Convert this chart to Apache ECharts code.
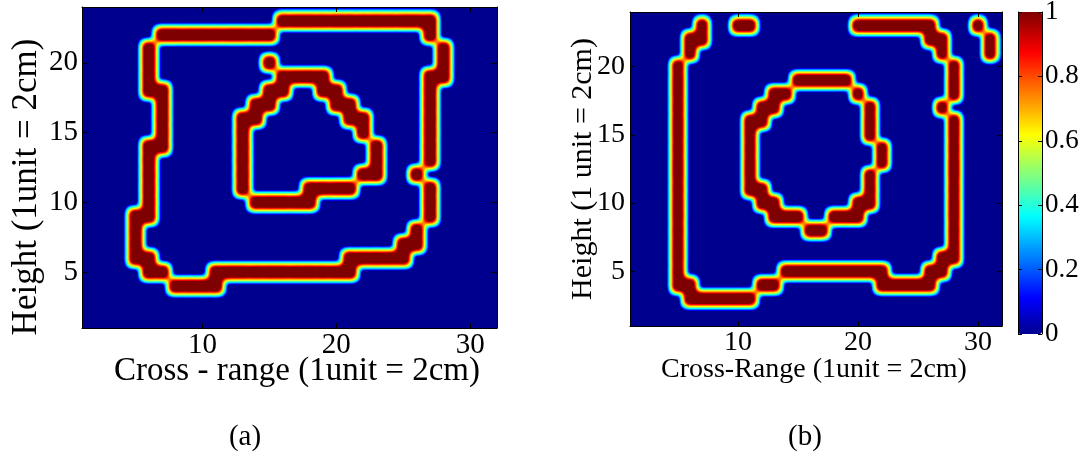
<!DOCTYPE html>
<html>
<head>
<meta charset="utf-8">
<script src="https://cdn.jsdelivr.net/npm/echarts@6/dist/echarts.min.js"></script>
<style>
  html, body { margin: 0; padding: 0; background: #fff; }
  #stage { position: relative; width: 1089px; height: 454px; overflow: hidden; }
  .field { position: absolute; filter: url(#jetmap); }
  #fieldA { left: 82px; top: 7px; width: 415px; height: 321px; }
  #fieldB { left: 630px; top: 12px; width: 372px; height: 314px; }
  #frame { position: absolute; left: 0; top: 0; width: 1089px; height: 454px; }
</style>
</head>
<body>
<!-- smoothing + jet colour mapping applied to the greyscale edge maps -->
<svg width="0" height="0" style="position:absolute">
  <filter id="jetmap" x="0" y="0" width="1" height="1" color-interpolation-filters="sRGB">
    <feGaussianBlur stdDeviation="3.2"/>
    <feComponentTransfer>
      <feFuncR id="funcR" type="table" tableValues="0 1"/>
      <feFuncG id="funcG" type="table" tableValues="0 1"/>
      <feFuncB id="funcB" type="table" tableValues="0 1"/>
      <feFuncA type="linear" slope="0" intercept="1"/>
    </feComponentTransfer>
  </filter>
</svg>
<div id="stage">
  <div id="fieldA" class="field"></div>
  <div id="fieldB" class="field"></div>
  <div id="frame"></div>
</div>
<script>
// ---- data -------------------------------------------------------------
const xRange = [1, 32];
const yRange = [1, 24];
const xTicks = [10, 20, 30];
const yTicks = [5, 10, 15, 20];
const barTicks = [0, 0.2, 0.4, 0.6, 0.8, 1];

// edge maps: rows from y = 24 (top) down to y = 1, columns x = 1..32
const edgeMapA = [
  '00000000000000000000000000000000', // 24
  '00000000000000011111111111100000', // 23
  '00000011111111100000000000100000', // 22
  '00000100000000000000000000010000', // 21
  '00000100000000100000000000010000', // 20
  '00000100000000011110000000110000', // 19
  '00000110000000110011000000100000', // 18
  '00000010000001100001100000100000', // 17
  '00000010000011000000110000100000', // 16
  '00000010000010000000010000100000', // 15
  '00000110000010000000001000100000', // 14
  '00000100000010000000001000100000', // 13
  '00000100000010000000011001000000', // 12
  '00000100000010000111100000100000', // 11
  '00000100000001111100000000100000', // 10
  '00001100000000000000000000100000', // 9
  '00001000000000000000000001000000', // 8
  '00001000000000000000000011000000', // 7
  '00001100000000000000111110000000', // 6
  '00000110001111111111100000000000', // 5
  '00000001111000000000000000000000', // 4
  '00000000000000000000000000000000', // 3
  '00000000000000000000000000000000', // 2
  '00000000000000000000000000000000'  // 1
];

const edgeMapB = [
  '00000000000000000000000000000000', // 24
  '00000010011000000001111111000100', // 23
  '00000110000000000000000001100010', // 22
  '00000100000000000000000000100010', // 21
  '00001000000000000000000000010000', // 20
  '00001000000000111110000000010000', // 19
  '00001000000011000001000000010000', // 18
  '00001000000110000000100000100000', // 17
  '00001000001100000000100000010000', // 16
  '00001000001000000000100000010000', // 15
  '00001000001000000000010000010000', // 14
  '00001000001000000000010000010000', // 13
  '00001000001000000000100000010000', // 12
  '00001000001100000000100000010000', // 11
  '00001000000110000001100000010000', // 10
  '00001000000011100111000000010000', // 9
  '00001000000000011000000000010000', // 8
  '00001000000000000000000000010000', // 7
  '00001000000000000000000000110000', // 6
  '00001000000001111111110001100000', // 5
  '00001100000110000000011111000000', // 4
  '00000111111000000000000000000000', // 3
  '00000000000000000000000000000000', // 2
  '00000000000000000000000000000000'  // 1
];

// ---- colour map (64-level jet) ----------------------------------------
function clamp01(t) { return Math.max(0, Math.min(1, t)); }
const K = 63 / 16;
function jet(u) {
  return [
    clamp01(Math.min(K * (u - 23 / 63), 1 - K * (u - 55 / 63))),
    clamp01(Math.min(K * (u - 7 / 63), 1 - K * (u - 39 / 63))),
    clamp01(Math.min(0.5625 + K * u, 1 - K * (u - 23 / 63)))
  ];
}
function hex(c) {
  return '#' + c.map(function (t) { return ('0' + Math.round(t * 255).toString(16)).slice(-2); }).join('');
}
const jetStops = [];
for (let i = 0; i < 64; i++) jetStops.push(hex(jet(i / 63)));

// normal cdf and its inverse, used to shape the edge fall-off
function erf(x) {
  const s = x < 0 ? -1 : 1; x = Math.abs(x);
  const t = 1 / (1 + 0.3275911 * x);
  const y = 1 - (((((1.061405429 * t - 1.453152027) * t) + 1.421413741) * t - 0.284496736) * t + 0.254829592) * t * Math.exp(-x * x);
  return s * y;
}
function phi(z) { return 0.5 * (1 + erf(z / Math.SQRT2)); }
function probit(p) {
  let lo = -8, hi = 8;
  for (let i = 0; i < 60; i++) {
    const mid = (lo + hi) / 2;
    if (phi(mid) < p) lo = mid; else hi = mid;
  }
  return (lo + hi) / 2;
}
const BLUR = 3.2;
function level(v) {
  const d = 7 - BLUR * probit(v);      // distance from a band centre, px
  return clamp01(1 - (d - 5) / 7.8);
}
(function buildTables() {
  const n = 256, r = [], g = [], b = [];
  for (let k = 0; k < n; k++) {
    const c = jet(level(k / (n - 1)));
    r.push(c[0].toFixed(4)); g.push(c[1].toFixed(4)); b.push(c[2].toFixed(4));
  }
  document.getElementById('funcR').setAttribute('tableValues', r.join(' '));
  document.getElementById('funcG').setAttribute('tableValues', g.join(' '));
  document.getElementById('funcB').setAttribute('tableValues', b.join(' '));
})();

// ---- edge map layers --------------------------------------------------
function toCells(rows) {
  const out = [];
  rows.forEach(function (row, i) {
    const y = rows.length - i;
    for (let j = 0; j < row.length; j++) out.push([j + 1, y, Number(row[j])]);
  });
  return out;
}
function fieldOption(rows) {
  return {
    animation: false,
    backgroundColor: '#000',
    grid: { left: 0, right: 0, top: 0, bottom: 0, outerBoundsMode: 'none' },
    xAxis: { type: 'value', min: xRange[0], max: xRange[1], show: false },
    yAxis: { type: 'value', min: yRange[0], max: yRange[1], show: false },
    series: [{
      type: 'custom',
      clip: true,
      data: toCells(rows),
      renderItem: function (params, api) {
        const v = api.value(2);
        if (!v) return null;
        const c = api.coord([api.value(0), api.value(1)]);
        const s = api.size([1, 1]);
        const g = Math.round(255 * v);
        return {
          type: 'rect',
          shape: { x: c[0] - s[0] / 2, y: c[1] - s[1] / 2, width: s[0], height: s[1] },
          style: { fill: 'rgb(' + g + ',' + g + ',' + g + ')' }
        };
      }
    }]
  };
}
echarts.init(document.getElementById('fieldA')).setOption(fieldOption(edgeMapA));
echarts.init(document.getElementById('fieldB')).setOption(fieldOption(edgeMapB));

// ---- axes, colour bar and titles --------------------------------------
const FONT = "'Liberation Serif', 'Times New Roman', serif";
const ink = '#000';
const line = { show: true, onZero: false, lineStyle: { color: ink, width: 1 } };

function xPair(gi, fs, margin) {
  const tick = { show: true, inside: true, length: 5, customValues: xTicks, lineStyle: { color: ink, width: 1 } };
  return [
    { gridIndex: gi, type: 'value', min: xRange[0], max: xRange[1], position: 'bottom',
      axisLine: line, axisTick: tick, splitLine: { show: false },
      axisLabel: { show: true, customValues: xTicks, margin: margin, color: ink, fontFamily: FONT, fontSize: fs } },
    { gridIndex: gi, type: 'value', min: xRange[0], max: xRange[1], position: 'top',
      axisLine: line, axisTick: tick, splitLine: { show: false }, axisLabel: { show: false } }
  ];
}
function yPair(gi, fs, margin) {
  const tick = { show: true, inside: true, length: 5, customValues: yTicks, lineStyle: { color: ink, width: 1 } };
  return [
    { gridIndex: gi, type: 'value', min: yRange[0], max: yRange[1], position: 'left',
      axisLine: line, axisTick: tick, splitLine: { show: false },
      axisLabel: { show: true, customValues: yTicks, margin: margin, color: ink, fontFamily: FONT, fontSize: fs } },
    { gridIndex: gi, type: 'value', min: yRange[0], max: yRange[1], position: 'right',
      axisLine: line, axisTick: tick, splitLine: { show: false }, axisLabel: { show: false } }
  ];
}
const barTick = { show: true, inside: true, length: 4, customValues: barTicks, lineStyle: { color: ink, width: 1 } };

function title(text, x, y, size, rotated) {
  return {
    type: 'text', x: x, y: y, rotation: rotated ? Math.PI / 2 : 0,
    style: { text: text, fill: ink, font: size + 'px ' + FONT, align: 'center', verticalAlign: 'middle' }
  };
}

const frame = echarts.init(document.getElementById('frame'));
frame.setOption({
  animation: false,
  textStyle: { fontFamily: FONT },
  grid: [
    { left: 82, top: 7, width: 415, height: 321, outerBoundsMode: 'none' },
    { left: 630, top: 12, width: 372, height: 314, outerBoundsMode: 'none' },
    { left: 1018, top: 12, width: 24, height: 322, outerBoundsMode: 'none' }
  ],
  xAxis: [].concat(
    xPair(0, 29, 3),
    xPair(1, 28, 3),
    [{ gridIndex: 2, type: 'value', min: 0, max: 1, show: false }]
  ),
  yAxis: [].concat(
    yPair(0, 29, 4),
    yPair(1, 28, 5),
    [
      { gridIndex: 2, type: 'value', min: 0, max: 1, interval: 0.2, position: 'right', z: 10,
        axisLine: line, axisTick: barTick, splitLine: { show: false },
        axisLabel: { show: true, customValues: barTicks, margin: 3, color: ink, fontFamily: FONT, fontSize: 27 } },
      { gridIndex: 2, type: 'value', min: 0, max: 1, interval: 0.2, position: 'left', z: 10,
        axisLine: line, axisTick: barTick, splitLine: { show: false }, axisLabel: { show: false } }
    ]
  ),
  visualMap: {
    type: 'continuous', min: 0, max: 1, calculable: false, show: true,
    orient: 'vertical', left: 1018, top: 12, itemWidth: 24, itemHeight: 322,
    padding: 0, z: 1, inRange: { color: jetStops }
  },
  graphic: [
    title('Cross - range (1unit = 2cm)', 297, 371, 33),
    title('Cross-Range (1unit = 2cm)', 814, 370, 28),
    title('Height (1unit = 2cm)', 27, 187, 35, true),
    title('Height (1 unit = 2cm)', 583, 169, 30, true),
    title('(a)', 245, 437, 29),
    title('(b)', 805, 437, 29)
  ],
  series: []
});
</script>
</body>
</html>
